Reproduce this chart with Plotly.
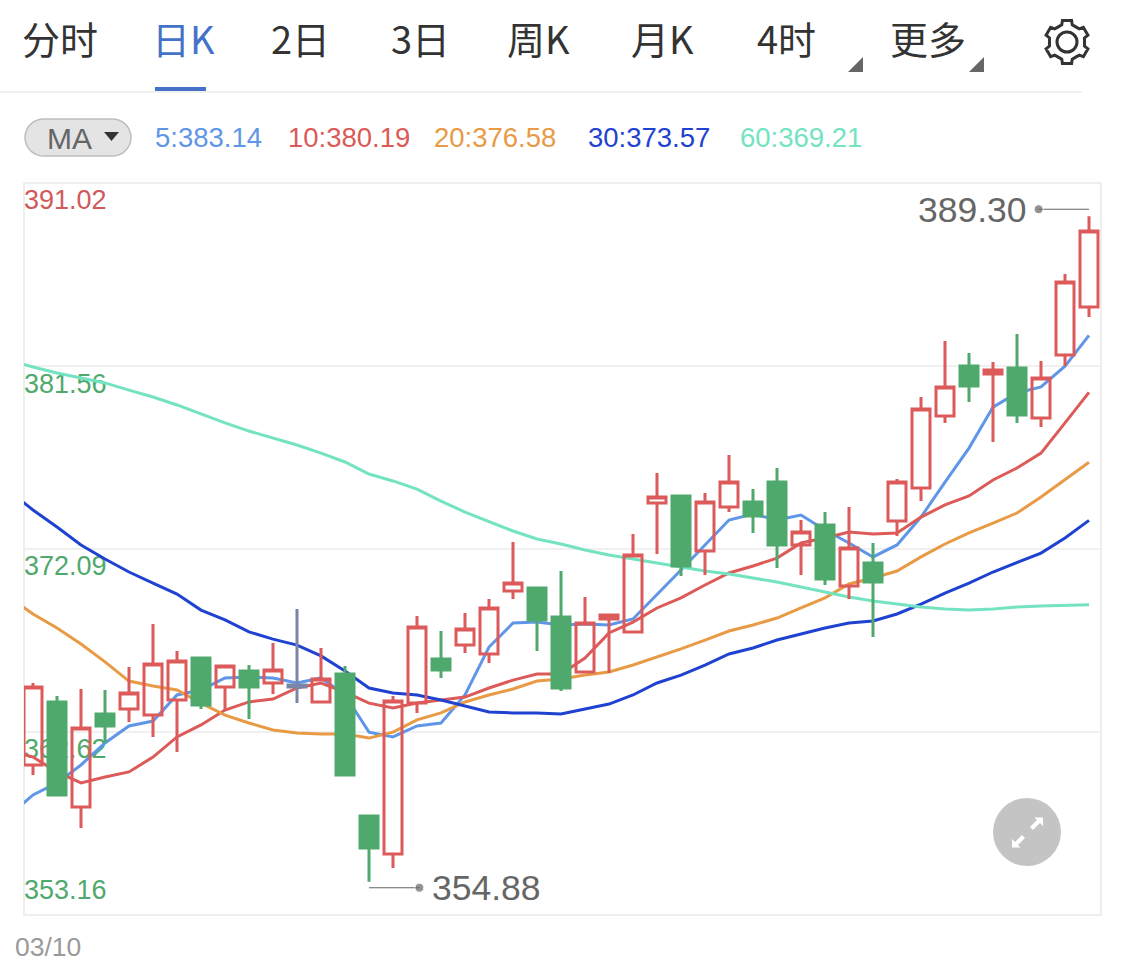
# K线图: 日K + MA5/10/20/30/60
import math
import plotly.graph_objects as go

WIDTH, HEIGHT = 1125, 971

# -1 是图外的上一根，只为了让均线从左边界开始
ma_index = list(range(-1, 45))
candle_index = list(range(45))

opens = [360.92, 364.18, 358.75, 363.56, 363.81, 363.50, 364.28, 366.45, 364.95, 365.78, 365.16, 365.06, 364.18, 365.62, 358.28,
         356.31, 364.12, 366.40, 367.12, 366.66, 369.92, 370.07, 368.57, 365.73, 368.47, 367.80, 374.47, 374.83, 371.99, 374.26,
         374.52, 375.55, 372.30, 373.33, 370.18, 371.37, 373.54, 375.24, 378.97, 381.55, 381.14, 381.45, 378.86, 382.12, 384.61]
highs = [365.16, 364.49, 364.85, 364.80, 365.99, 368.21, 366.81, 366.50, 366.04, 366.09, 367.23, 368.99, 366.97, 366.04, 358.33,
         364.49, 368.62, 367.85, 368.78, 369.50, 372.45, 370.07, 370.95, 369.61, 368.68, 372.87, 376.02, 374.83, 374.99, 376.95,
         375.19, 376.28, 373.59, 374.00, 374.26, 372.40, 375.71, 379.95, 382.85, 382.23, 381.76, 383.21, 381.81, 386.31, 389.30]
lows = [360.40, 359.31, 357.66, 362.06, 363.14, 362.37, 361.59, 363.81, 363.71, 363.30, 364.59, 364.12, 364.18, 360.40, 354.88,
        355.59, 363.61, 365.42, 366.71, 366.19, 369.50, 366.81, 364.75, 365.73, 365.68, 367.80, 371.83, 370.69, 370.74, 374.00,
        372.92, 371.11, 370.74, 370.23, 369.50, 367.54, 372.76, 374.57, 378.61, 379.69, 377.62, 378.61, 378.40, 381.55, 384.09]
closes = [364.95, 359.37, 362.83, 362.94, 364.64, 366.14, 366.30, 364.02, 366.04, 364.95, 365.83, 364.95, 365.37, 360.40, 356.63,
          364.23, 368.06, 365.83, 367.95, 369.04, 370.33, 368.42, 364.90, 368.26, 368.68, 371.78, 374.78, 371.21, 374.52, 375.55,
          373.80, 372.30, 372.97, 370.54, 372.14, 370.38, 375.55, 379.33, 380.47, 380.52, 381.35, 379.02, 380.93, 385.90, 388.54]
doji_index = [11]

ma5 = [358.28, 359.37, 359.99, 360.92, 362.06, 362.94, 363.19, 364.54, 364.80, 365.42, 365.47, 365.42, 365.16, 365.42, 364.54, 362.62,
       362.37, 362.94, 363.09, 364.54, 367.02, 368.26, 368.31, 368.16, 368.21, 368.16, 368.47, 369.71, 371.00, 372.30, 373.59,
       373.90, 373.59, 373.85, 373.07, 372.40, 371.68, 372.30, 373.74, 375.55, 377.31, 379.43, 380.16, 380.47, 381.55, 383.14]
ma10 = [361.69, 361.33, 360.56, 359.99, 360.30, 360.56, 361.33, 362.37, 362.99, 363.76, 364.18, 364.33, 364.90, 365.16, 364.69, 364.12,
        363.87, 364.12, 364.28, 364.43, 364.90, 365.31, 365.62, 365.62, 366.45, 367.75, 368.31, 369.04, 369.56, 370.23, 370.85,
        371.21, 371.62, 372.40, 372.66, 372.97, 372.87, 372.92, 373.74, 374.37, 374.83, 375.66, 376.28, 377.05, 378.61, 380.19]
ma20 = [369.61, 368.73, 368.00, 367.18, 366.25, 365.26, 365.00, 364.80, 364.12, 363.50, 363.09, 362.73, 362.57, 362.52, 362.52, 362.31,
        362.62, 363.25, 363.61, 364.18, 364.54, 364.85, 365.26, 365.37, 365.57, 365.73, 366.09, 366.50, 366.92, 367.38, 367.85,
        368.16, 368.52, 369.04, 369.56, 370.28, 370.59, 370.95, 371.68, 372.35, 372.92, 373.43, 373.95, 374.78, 375.66, 376.58]
ma30 = [375.09, 374.11, 373.23, 372.30, 371.57, 370.90, 370.33, 369.76, 368.93, 368.42, 367.80, 367.43, 367.12, 366.56, 365.78, 364.90,
        364.64, 364.54, 364.28, 363.97, 363.66, 363.61, 363.61, 363.56, 363.81, 364.07, 364.54, 365.16, 365.57, 366.09, 366.66,
        366.97, 367.38, 367.69, 368.00, 368.26, 368.37, 368.73, 369.24, 369.81, 370.33, 370.90, 371.37, 371.88, 372.66, 373.57]
ma60 = [381.86, 381.50, 381.19, 380.93, 380.68, 380.31, 379.95, 379.54, 379.07, 378.61, 378.19, 377.83, 377.47, 377.05, 376.59, 375.97,
        375.61, 375.19, 374.57, 374.00, 373.49, 373.02, 372.61, 372.35, 372.04, 371.78, 371.57, 371.37, 371.16, 370.95, 370.80,
        370.59, 370.38, 370.12, 369.87, 369.61, 369.40, 369.24, 369.09, 368.99, 368.93, 368.99, 369.09, 369.14, 369.19, 369.21]

ma_names = ['5', '10', '20', '30', '60']
ma_series = [ma5, ma10, ma20, ma30, ma60]
ma_colors = ['#5f96e8', '#dc5a58', '#e89a45', '#1f42d0', '#74e3c2']
ma_legend_x = [156, 289, 435, 589, 741]

axis_values = [391.02, 381.56, 372.09, 362.62, 353.16]
axis_colors = ['#d05a5a', '#4fa96c', '#4fa96c', '#4fa96c', '#4fa96c']

tab_labels = ['分时', '日K', '2日', '3日', '周K', '月K', '4时', '更多']
tab_x = [24, 154, 273, 393, 509, 633, 759, 892]
active_tab = '日K'
date_label = '03/10'

RED = '#dc5a5a'
GREEN = '#4fa96c'
GRAY = '#7b86a6'
CJK = '"Noto Sans CJK SC", "Liberation Sans", sans-serif'
LATIN = '"Liberation Sans", sans-serif'

PLOT_L, PLOT_R, PLOT_T, PLOT_B = 24, 1101, 183, 915
PX_PRICE = (axis_values[0] - axis_values[-1]) / (PLOT_B - PLOT_T)
x_range = [-0.375, 44.5]
y_range = [axis_values[-1], axis_values[0]]


def px(x):
    return x / WIDTH


def py(y):
    return 1 - y / HEIGHT


def label(x, y, text, size, color, anchor='left', family=LATIN):
    return dict(x=px(x), y=py(y), xref='paper', yref='paper', text=text, showarrow=False,
                xanchor=anchor, yanchor='middle', align=anchor,
                font=dict(size=size, color=color, family=family))


def rect(x0, y0, x1, y1, color):
    return dict(type='rect', xref='paper', yref='paper', x0=px(x0), x1=px(x1), y0=py(y0), y1=py(y1),
                fillcolor=color, line=dict(width=0))


def closed_path(points):
    return 'M ' + ' L '.join(f'{px(a):.5f},{py(b):.5f}' for a, b in points) + ' Z'


def poly(points, color):
    return dict(type='path', xref='paper', yref='paper', path=closed_path(points), fillcolor=color,
                line=dict(width=0))


def gear_points(cx, cy):
    # 6 齿齿轮轮廓
    pts = []
    for i in range(6):
        mid = 90 + i * 60
        for off, r in [(-30, 17.5), (-17, 18), (-12, 22), (12, 22), (17, 18)]:
            a = math.radians(mid + off)
            pts.append((cx + r * math.cos(a), cy - r * math.sin(a)))
    return pts


def pill_points(x0, y0, x1, y1):
    r = (y1 - y0) / 2
    pts = []
    for deg in range(90, 271, 10):
        a = math.radians(deg)
        pts.append((x0 + r + r * math.cos(a), y0 + r - r * math.sin(a)))
    for deg in range(270, 451, 10):
        a = math.radians(deg)
        pts.append((x1 - r + r * math.cos(a), y0 + r - r * math.sin(a)))
    return pts


fig = go.Figure()

# 轴标签放在最底层，会被绿色实体K线盖住
for value, color, shift in zip(axis_values, axis_colors, [19, 20, 19, 19, -23]):
    fig.add_trace(go.Scatter(
        x=[x_range[0]], y=[value - shift * PX_PRICE], mode='text', text=[f'{value:.2f}'],
        textposition='middle right', cliponaxis=False, hoverinfo='skip', showlegend=False,
        textfont=dict(size=27, color=color, family=LATIN)))

for name, series, color in zip(ma_names, ma_series, ma_colors):
    fig.add_trace(go.Scatter(x=ma_index, y=series, mode='lines', name='MA' + name,
                             line=dict(color=color, width=3), showlegend=False))

# K线要压在均线上面，candlestick 层低于 scatter 层，所以单独放到叠加坐标轴
normal = [i for i in candle_index if i not in doji_index]
fig.add_trace(go.Candlestick(
    x=normal, open=[opens[i] for i in normal], high=[highs[i] for i in normal],
    low=[lows[i] for i in normal], close=[closes[i] for i in normal],
    xaxis='x2', yaxis='y2', showlegend=False,
    increasing=dict(line=dict(color=RED, width=3), fillcolor='rgba(255,255,255,0)'),
    decreasing=dict(line=dict(color=GREEN, width=3), fillcolor=GREEN)))
fig.add_trace(go.Candlestick(
    x=doji_index, open=[opens[i] for i in doji_index], high=[highs[i] for i in doji_index],
    low=[lows[i] for i in doji_index], close=[closes[i] for i in doji_index],
    xaxis='x2', yaxis='y2', showlegend=False,
    increasing=dict(line=dict(color=GRAY, width=3), fillcolor=GRAY),
    decreasing=dict(line=dict(color=GRAY, width=3), fillcolor=GRAY)))

# 最高/最低价引线
hi_i = highs.index(max(highs))
lo_i = lows.index(min(lows))
CALLOUT = 2.1
for i, price, shift, direction in [(hi_i, highs[hi_i], 7, -1), (lo_i, lows[lo_i], -6, 1)]:
    fig.add_trace(go.Scatter(
        x=[i, i + direction * CALLOUT], y=[price + shift * PX_PRICE] * 2, mode='lines+markers',
        line=dict(color='#666666', width=1.2), marker=dict(size=[0, 9], color='#666666'),
        xaxis='x2', yaxis='y2', showlegend=False, hoverinfo='skip'))

annotations = []
for text, x in zip(tab_labels, tab_x):
    color = '#4472c9' if text == active_tab else '#333333'
    annotations.append(label(x - 4, 38, text, 38, color, family=CJK))

annotations.append(label(69, 138, 'MA', 30, '#666666', anchor='center'))
for name, series, color, x in zip(ma_names, ma_series, ma_colors, ma_legend_x):
    annotations.append(label(x - 3, 137, f'{name}:{series[-1]:.2f}', 27.5, color))
annotations.append(label(13, 947, date_label, 26.5, '#9a9a9a'))
annotations.append(dict(x=hi_i - CALLOUT, y=highs[hi_i] + 7 * PX_PRICE, xref='x2', yref='y2',
                        text=f'{highs[hi_i]:.2f}', showarrow=False, xanchor='right', xshift=-10, yshift=-1,
                        font=dict(size=35.5, color='#666666', family=LATIN)))
annotations.append(dict(x=lo_i + CALLOUT, y=lows[lo_i] - 6 * PX_PRICE, xref='x2', yref='y2',
                        text=f'{lows[lo_i]:.2f}', showarrow=False, xanchor='left', xshift=11,
                        font=dict(size=35.5, color='#666666', family=LATIN)))

shapes = [
    dict(type='rect', xref='paper', yref='paper', layer='below', x0=px(PLOT_L), x1=px(PLOT_R),
         y0=py(PLOT_B), y1=py(PLOT_T), fillcolor='rgba(0,0,0,0)', line=dict(color='#eeeeee', width=2)),
    rect(155, 87, 206, 91, '#4472c9'),
    rect(0, 91, 1082, 93, '#f0f0f0'),
    poly([(863, 57), (863, 72), (848, 72)], '#666666'),
    poly([(984, 57), (984, 72), (969, 72)], '#666666'),
    dict(type='path', xref='paper', yref='paper', path=closed_path(pill_points(25, 119, 131, 156)),
         fillcolor='#e4e4e4', line=dict(color='#bdbdbd', width=1.5)),
    poly([(104, 132), (119, 132), (111.5, 141)], '#333333'),
    # 设置图标
    dict(type='path', xref='paper', yref='paper', path=closed_path(gear_points(1067, 42)),
         fillcolor='rgba(0,0,0,0)', line=dict(color='#333333', width=3)),
    dict(type='circle', xref='paper', yref='paper', x0=px(1057), x1=px(1077), y0=py(32), y1=py(52),
         fillcolor='rgba(0,0,0,0)', line=dict(color='#333333', width=3)),
    # 全屏按钮
    dict(type='circle', xref='paper', yref='paper', x0=px(993), x1=px(1061), y0=py(798), y1=py(866),
         fillcolor='#c4c4c4', line=dict(width=0)),
    poly([(1034.5, 817.5), (1043, 817.5), (1043, 826), (1040, 823), (1033, 830), (1030, 827), (1037, 820)], '#ffffff'),
    poly([(1020.5, 847.5), (1012, 847.5), (1012, 839), (1015, 842), (1022, 835), (1025, 838), (1018, 845)], '#ffffff'),
]

fig.update_layout(
    width=WIDTH, height=HEIGHT, margin=dict(l=0, r=0, t=0, b=0),
    paper_bgcolor='white', plot_bgcolor='white', showlegend=False,
    boxmode='overlay', boxgap=0.25, boxgroupgap=0,
    xaxis=dict(domain=[px(PLOT_L), px(PLOT_R)], range=x_range, showgrid=False, zeroline=False,
               showticklabels=False, ticks='', showline=False, fixedrange=True),
    yaxis=dict(domain=[py(PLOT_B), py(PLOT_T)], range=y_range, tickvals=axis_values[1:-1], showticklabels=False,
               ticks='', gridcolor='#f0f0f0', gridwidth=2, zeroline=False, showline=False, fixedrange=True),
    xaxis2=dict(overlaying='x', anchor='y2', range=x_range, visible=False, rangeslider=dict(visible=False),
                fixedrange=True),
    yaxis2=dict(overlaying='y', anchor='x2', range=y_range, visible=False, fixedrange=True),
    annotations=annotations, shapes=shapes,
)

fig.write_html("out.html", config=dict(displayModeBar=False), post_script="document.body.style.margin='0';")
